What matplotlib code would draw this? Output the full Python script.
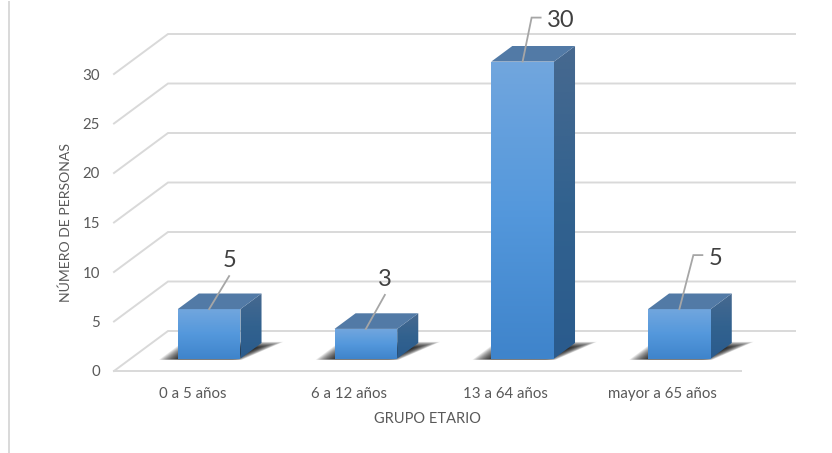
import numpy as np
import matplotlib
matplotlib.use("Agg")
import matplotlib.pyplot as plt
from matplotlib.colors import LinearSegmentedColormap
from matplotlib.lines import Line2D
from matplotlib.patches import Polygon

categories = ["0 a 5 años", "6 a 12 años", "13 a 64 años", "mayor a 65 años"]
values = [5, 3, 30, 5]
y_ticks = [0, 5, 10, 15, 20, 25, 30]
x_title = "GRUPO ETARIO"
y_title = "NÚMERO DE PERSONAS"

plt.rcParams["font.family"] = ["Lato", "DejaVu Sans"]

W, H = 832, 453
fig = plt.figure(figsize=(W / 100, H / 100), dpi=100, facecolor="white")

# Front plane of the chart box, in pixels from the top-left corner
LEFT, RIGHT, FLOOR, TOP = 114, 741, 371, 74
ax = fig.add_axes([LEFT / W, 1 - FLOOR / H, (RIGHT - LEFT) / W, (FLOOR - TOP) / H])
ax.set_facecolor("none")
ax.set_xlim(-0.5, 3.5)
ax.set_ylim(0, 30)
ax.set_autoscale_on(False)

# Oblique projection: one full unit of depth moves a point this far in data units
PX_PER_CAT = (RIGHT - LEFT) / 4
PX_PER_VAL = (FLOOR - TOP) / 30
DEPTH_X = 54 / PX_PER_CAT
DEPTH_Y = 40 / PX_PER_VAL


def project(x, y, depth=0.0):
    return x + depth * DEPTH_X, y + depth * DEPTH_Y


GRID = "#D9D9D9"
for tick in y_ticks:
    x0, y0 = project(-0.5, tick)
    x1, y1 = project(-0.5, tick, 1)
    x2, y2 = project(3.5, tick, 1)
    ax.plot([x0, x1, x2], [y0, y1, y2], color=GRID, lw=1.4, zorder=1,
            clip_on=False, solid_joinstyle="miter")
ax.plot([-0.5, 3.5], [0, 0], color=GRID, lw=1.4, zorder=1, clip_on=False)

HALF = 0.2
D0, D1 = 0.31, 0.70
front_cmap = LinearSegmentedColormap.from_list("front", ["#3F84CB", "#5498DC", "#71A6DE"])
side_cmap = LinearSegmentedColormap.from_list("side", ["#2A5B8D", "#32628F", "#47698F"])
TOP_COLOR = "#527AA6"


def gradient_face(verts, cmap, zorder):
    """Fill a polygon with a vertical gradient."""
    patch = Polygon(verts, closed=True, transform=ax.transData, facecolor="none",
                    edgecolor="none", clip_on=False)
    ax.add_patch(patch)
    xs, ys = zip(*verts)
    ramp = np.linspace(1, 0, 128).reshape(-1, 1)
    img = ax.imshow(ramp, cmap=cmap, vmin=0, vmax=1, aspect="auto", zorder=zorder,
                    extent=(min(xs), max(xs), min(ys), max(ys)), interpolation="bilinear")
    img.set_clip_path(patch)
    img.set_clip_box(fig.bbox)


def floor_shadow(i):
    """Soft dark shadow thrown on the floor, behind and right of a bar."""
    outer = np.array([
        project(i - HALF - 0.11, 0, D0 - 0.03),
        project(i + HALF + 0.02, 0, D0 - 0.03),
        project(i + HALF + 0.13, 0, D1 + 0.03),
        project(i - HALF - 0.11, 0, D1 + 0.03),
    ])
    # Fade toward the bar's base by stacking translucent shrinking copies
    centre = np.array(project(i + 0.02, 0, D0 + 0.02))
    layers = 24
    for k in range(layers):
        scale = 1.0 - 0.45 * k / (layers - 1)
        ax.add_patch(Polygon(centre + (outer - centre) * scale, closed=True, facecolor="black",
                             edgecolor="none", alpha=0.075, zorder=2, clip_on=False))


for i, v in enumerate(values):
    floor_shadow(i)
    xl, xr = i - HALF, i + HALF
    front = [project(xl, 0, D0), project(xr, 0, D0), project(xr, v, D0), project(xl, v, D0)]
    side = [project(xr, 0, D0), project(xr, 0, D1), project(xr, v, D1), project(xr, v, D0)]
    top = [project(xl, v, D0), project(xr, v, D0), project(xr, v, D1), project(xl, v, D1)]
    gradient_face(side, side_cmap, 3)
    gradient_face(front, front_cmap, 4)
    ax.add_patch(Polygon(top, closed=True, facecolor=TOP_COLOR, edgecolor="none", zorder=4,
                         clip_on=False))

# Leader lines and value labels, as pixel offsets from the top-front edge of each bar
leader_paths = [
    [(0, 0), (20, 33)],
    [(0, 0), (19, 34)],
    [(0, 0), (9, 44), (18, 44)],
    [(0, 0), (14, 54), (23, 54)],
]
label_offsets = [(20, 49), (19, 49), (38, 41), (36, 51)]
to_pixels = ax.transData.transform
to_data = ax.transData.inverted().transform
for i, v in enumerate(values):
    ax_pt = to_pixels(project(i, v, D0))
    path = to_data([(ax_pt[0] + dx, ax_pt[1] + dy) for dx, dy in leader_paths[i]])
    ax.plot(path[:, 0], path[:, 1], color="#A6A6A6", lw=1.3, zorder=6, clip_on=False,
            solid_joinstyle="miter")
    lx, ly = to_data((ax_pt[0] + label_offsets[i][0], ax_pt[1] + label_offsets[i][1]))
    ax.text(lx, ly, str(v), fontsize=17, color="#404040", ha="center", va="center",
            zorder=7, clip_on=False)

for spine in ax.spines.values():
    spine.set_visible(False)
ax.set_xticks(range(len(categories)), categories)
ax.set_yticks(y_ticks)
ax.tick_params(axis="both", length=0, labelsize=10.8, labelcolor="#595959")
ax.tick_params(axis="x", pad=11.5)
ax.tick_params(axis="y", pad=10)

fig.text(428 / W, 1 - 419 / H, x_title, fontsize=10.5, color="#595959", ha="center", va="center")
fig.text(66 / W, 1 - 222 / H, y_title, fontsize=10.1, color="#595959", ha="center", va="center",
         rotation=90)

# Thin rule down the left margin
fig.add_artist(Line2D([9 / W, 9 / W], [0, 1 - 2 / H], color=GRID, lw=1.4))

fig.savefig("out.png", dpi=100, facecolor="white")
